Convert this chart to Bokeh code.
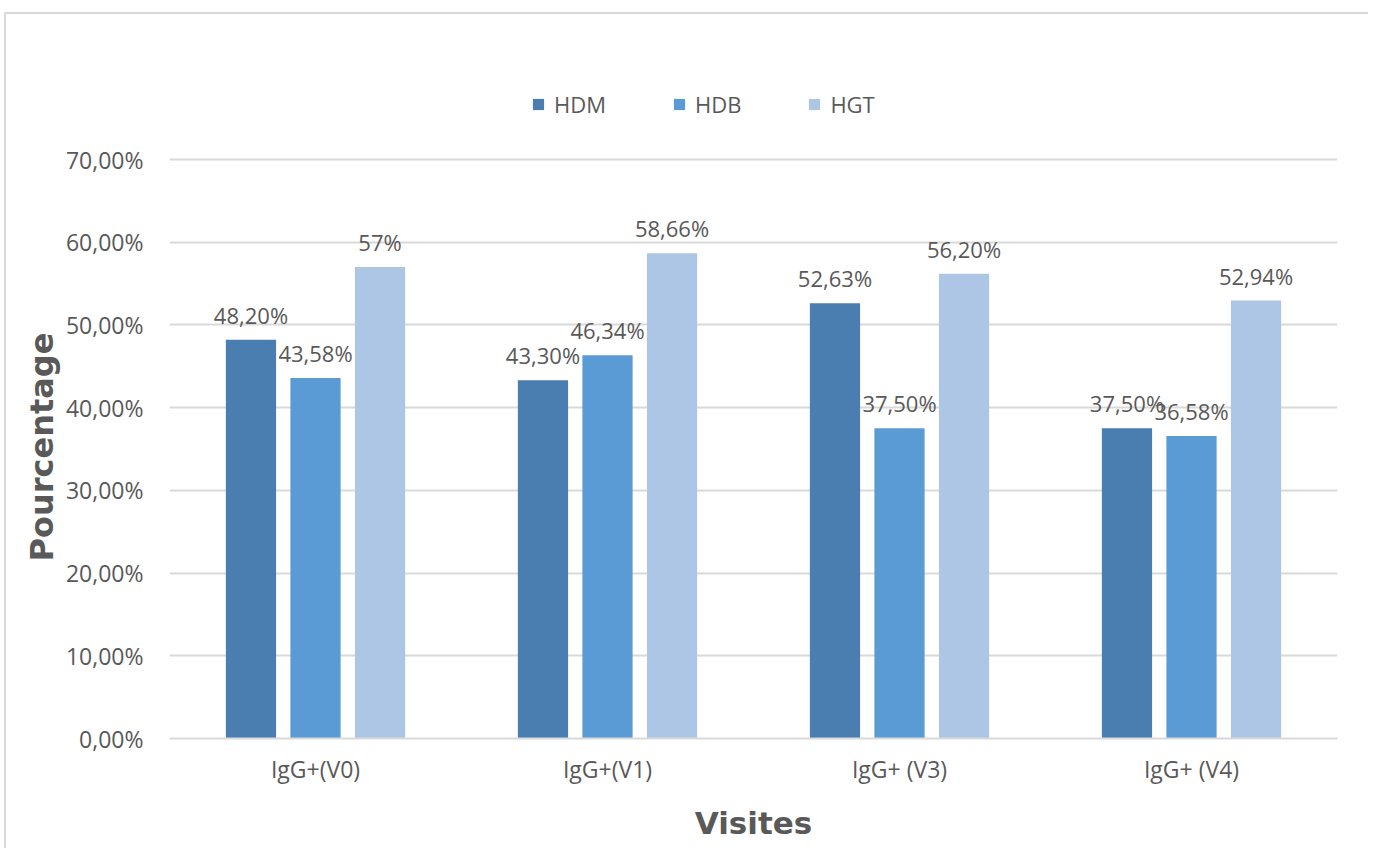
from bokeh.plotting import figure
from bokeh.models import (FactorRange, Range1d, FixedTicker, CustomJSTickFormatter,
                          ColumnDataSource, Legend, LegendItem, Title)
from bokeh.transform import dodge
from bokeh.core.properties import value
from bokeh.embed import file_html
from bokeh.resources import INLINE

# Visits and IgG+ percentages per group
visits = ["IgG+(V0)", "IgG+(V1)", "IgG+ (V3)", "IgG+ (V4)"]
hdm = [48.20, 43.30, 52.63, 37.50]
hdb = [43.58, 46.34, 37.50, 36.58]
hgt = [57.00, 58.66, 56.20, 52.94]
hdm_labels = ["48,20%", "43,30%", "52,63%", "37,50%"]
hdb_labels = ["43,58%", "46,34%", "37,50%", "36,58%"]
hgt_labels = ["57%", "58,66%", "56,20%", "52,94%"]
series_names = ["HDM", "HDB", "HGT"]
y_ticks = [0, 10, 20, 30, 40, 50, 60, 70]

colors = ["#4a7eb1", "#5b9bd5", "#adc6e6"]
text_color = "#595959"
grid_color = "#d9d9d9"
tick_font = "Open Sans"
title_font = "DejaVu Sans"

source = ColumnDataSource(dict(
    visit=visits, HDM=hdm, HDB=hdb, HGT=hgt,
    HDM_lab=hdm_labels, HDB_lab=hdb_labels, HGT_lab=hgt_labels,
))

# headroom above 70% leaves space for the legend inside the frame
p = figure(
    x_range=FactorRange(*visits, range_padding=0),
    y_range=Range1d(0, 82.09),
    width=1364, height=836,
    output_backend="svg", toolbar_location=None,
    min_border_left=163, min_border_right=33,
    min_border_top=45, min_border_bottom=112,
)
p.margin = (12, 0, 0, 4)
p.styles = {"border-top": "2px solid #d9d9d9", "border-left": "2px solid #d9d9d9"}
p.outline_line_color = None
p.background_fill_color = "white"
p.border_fill_color = "white"

offsets = [-0.221, 0.0, 0.221]
renderers = []
for name, off, col in zip(series_names, offsets, colors):
    r = p.vbar(x=dodge("visit", off, range=p.x_range), top=name, width=0.172,
               source=source, fill_color=col, line_color=None)
    renderers.append(r)
    p.text(x=dodge("visit", off, range=p.x_range), y=name, text=name + "_lab",
           source=source, text_align="center", text_baseline="middle",
           y_offset=-25, text_font=value(tick_font), text_font_size="22px",
           text_color=text_color)

legend = Legend(items=[LegendItem(label=n, renderers=[r]) for n, r in zip(series_names, renderers)],
                orientation="horizontal", location=(362, 619),
                glyph_width=14, glyph_height=14, label_standoff=9, spacing=66,
                padding=0, margin=0, border_line_color=None, background_fill_alpha=0,
                label_text_font=tick_font, label_text_font_size="22px",
                label_text_color=text_color)
p.add_layout(legend, "center")

# y axis
p.yaxis.ticker = FixedTicker(ticks=y_ticks)
p.yaxis.formatter = CustomJSTickFormatter(code="return tick.toFixed(2).replace('.', ',') + '%';")
p.yaxis.axis_line_color = None
p.yaxis.major_tick_line_color = None
p.yaxis.minor_tick_line_color = None
p.yaxis.major_label_text_font = tick_font
p.yaxis.major_label_text_font_size = "23px"
p.yaxis.major_label_text_color = text_color
p.yaxis.major_label_standoff = 20

# x axis
p.xaxis.axis_line_color = grid_color
p.xaxis.axis_line_width = 2
p.xaxis.major_tick_line_color = None
p.xaxis.minor_tick_line_color = None
p.xaxis.major_label_text_font = tick_font
p.xaxis.major_label_text_font_size = "23px"
p.xaxis.major_label_text_color = text_color
p.xaxis.major_label_standoff = 8
p.xaxis.axis_label = "Visites"
p.xaxis.axis_label_text_font = title_font
p.xaxis.axis_label_text_font_style = "bold"
p.xaxis.axis_label_text_font_size = "31px"
p.xaxis.axis_label_text_color = text_color
p.xaxis.axis_label_standoff = 17

p.xgrid.grid_line_color = None
p.ygrid.grid_line_color = grid_color
p.ygrid.grid_line_width = 2

# y title, positioned along the 0-70% span
y_title = Title(text="Pourcentage", align="left", offset=177, standoff=4,
                text_font=title_font, text_font_style="bold", text_font_size="32px",
                text_color=text_color)
p.add_layout(y_title, "left")

open("out.html", "w").write(file_html(p, INLINE))
